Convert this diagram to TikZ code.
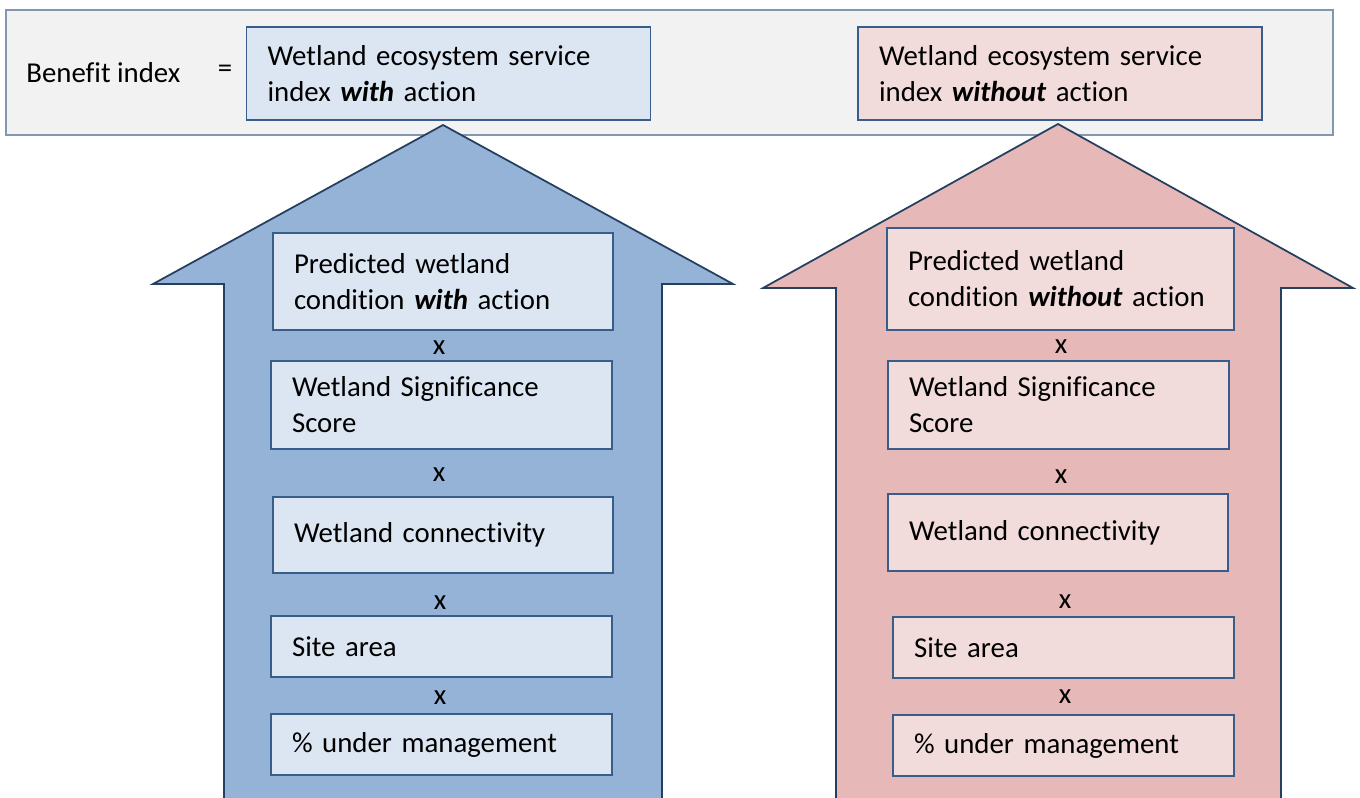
\documentclass[tikz,border=0pt]{standalone}
\usepackage{fontspec}
\setmainfont[Ligatures={NoCommon}]{Carlito}
\definecolor{greybg}{HTML}{F2F2F2}
\definecolor{greyline}{HTML}{8497B0}
\definecolor{bluearr}{HTML}{95B3D7}
\definecolor{bluebox}{HTML}{DCE6F2}
\definecolor{pinkarr}{HTML}{E6B9B8}
\definecolor{pinkbox}{HTML}{F2DCDB}
\definecolor{arrline}{HTML}{243F60}
\definecolor{boxline}{HTML}{385D8A}

\begin{document}
\begin{tikzpicture}[x=0.02cm, y=-0.02cm,
  font=\fontsize{16.4}{20.5}\selectfont,
  idx/.style={draw=boxline, line width=1pt, inner xsep=0.42cm,
    align=left, text width=7.24cm, minimum height=1.86cm},
  fac/.style={draw=boxline, line width=1pt, inner xsep=0.42cm,
    align=left, text width=5.98cm},
  times/.style={inner sep=0pt}]

\clip (0,0) rectangle (1360,798);

\filldraw [fill=greybg, draw=greyline, line width=0.8pt] (6,10)
rectangle (1333,135);
\node [anchor=west, inner sep=0pt] (bi) at (26,73) {Benefit index};
\node (eq) at (225,71) {=};

\begin{scope}[draw=arrline, line width=1pt, line join=miter]
  \filldraw [fill=bluearr] (443,125) -- (733,284) -- (662,284) --
  (662,810) -- (224,810) -- (224,284) -- (153,284) -- cycle;
  \filldraw [fill=pinkarr] (1058,124) -- (1353,288) -- (1281,288) --
  (1281,810) -- (836,810) -- (836,288) -- (763,288) -- cycle;
\end{scope}

\begin{scope}[every node/.append style={fill=bluebox}]
  \node [idx] (lt) at (448.5,73.5) {Wetland ecosystem service\\
    index \textbf{\textit{with}} action};
  \node [fac, text width=5.96cm, minimum height=1.94cm] (lp) at
  (443,281.5) {Predicted wetland\\ condition \textbf{\textit{with}} action};
  \node [fac, minimum height=1.76cm] (ls) at (441.5,405) {Wetland
    Significance\\ Score};
  \node [fac, text width=5.96cm, minimum height=1.52cm] (lc) at
  (443,535) {Wetland connectivity};
  \node [fac, minimum height=1.22cm] (la) at (441.5,646.5) {Site area};
  \node [fac, minimum height=1.22cm] (lm) at (441.5,744.5) {\%
    under management};
\end{scope}

\begin{scope}[every node/.append style={fill=pinkbox}]
  \node [idx] (rt) at (1060,73.5) {Wetland ecosystem service\\
    index \textbf{\textit{without}} action};
  \node [fac, text width=6.10cm, minimum height=2.04cm] (rp) at
  (1060.5,279) {Predicted wetland\\ condition \textbf{\textit{without}} action};
  \node [fac, minimum height=1.76cm] (rs) at (1058.5,405) {Wetland
    Significance\\ Score};
  \node [fac, text width=5.96cm, minimum height=1.54cm] (rc) at
  (1058,532.5) {Wetland connectivity};
  \node [fac, minimum height=1.22cm] (ra) at (1063.5,647.5) {Site area};
  \node [fac, minimum height=1.22cm] (rm) at (1063.5,745.5) {\%
    under management};
\end{scope}

\node [times] (lx1) at (439,348) {x}; \node [times] (lx2) at (439,475)
{x}; \node [times] (lx3) at (440,603) {x}; \node [times] (lx4) at
(440,698) {x};
\node [times] (rx1) at (1061,347) {x}; \node [times] (rx2) at
(1061,477) {x}; \node [times] (rx3) at (1065,602) {x}; \node [times]
(rx4) at (1065,697) {x};
\end{tikzpicture}
\end{document}
